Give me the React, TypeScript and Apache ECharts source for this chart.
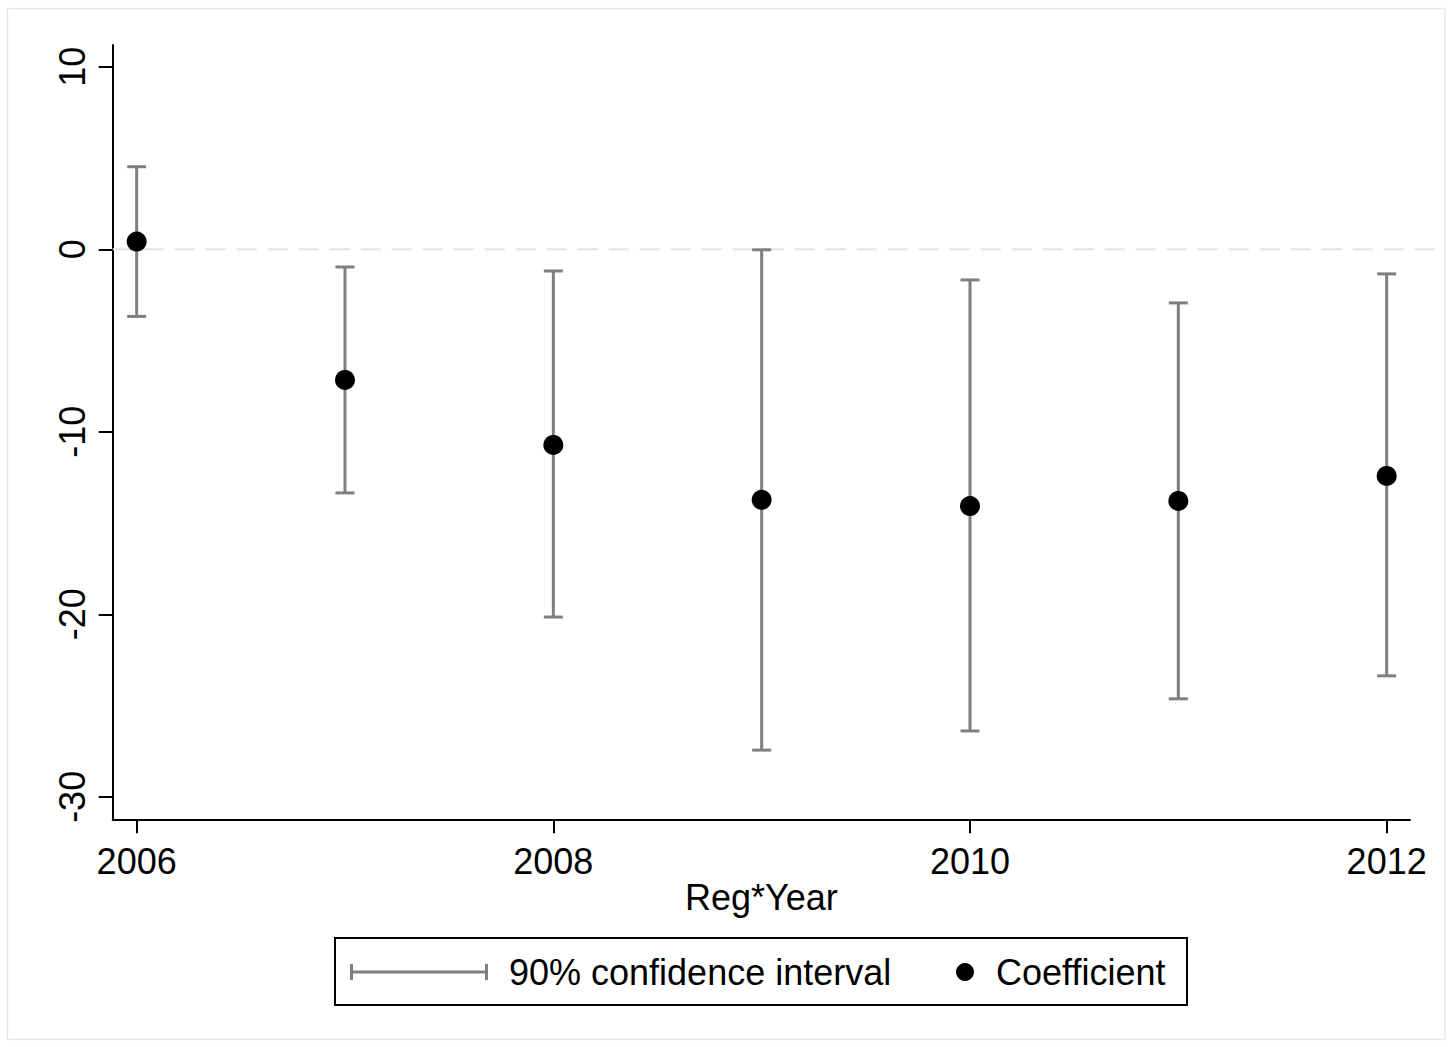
import React, { useEffect, useRef } from "react";
import * as echarts from "echarts";

const YEARS = [2006, 2007, 2008, 2009, 2010, 2011, 2012];
const COEF = [0.42, -7.16, -10.72, -13.73, -14.07, -13.79, -12.42];
const CI_LOW = [-3.68, -13.35, -20.15, -27.44, -26.39, -24.63, -23.37];
const CI_HIGH = [4.52, -0.97, -1.19, -0.03, -1.68, -2.94, -1.35];
const X_TICKS = [2006, 2008, 2010, 2012];
const Y_TICKS = [-30, -20, -10, 0, 10];
const ZERO_LINE = [[0, 0], [1, 0]];
const X_TITLE = "Reg*Year";
const CI_NAME = "90% confidence interval";
const COEF_NAME = "Coefficient";

const FONT = "'Liberation Sans', Arial, sans-serif";
const GRAY = "#7f7f7f";

export default function App() {
  const ref = useRef<HTMLDivElement>(null);
  useEffect(() => {
    if (!ref.current) return;
    const chart = echarts.init(ref.current, null, { renderer: "svg" });
    const yMin = -31.23;
    const yMax = 11.19;
    const option: any = {
      animation: false,
      backgroundColor: "#ffffff",
      textStyle: { fontFamily: FONT },
      grid: [
        { left: 112.7, right: 38, top: 45, bottom: 227.7 },
        { left: 112.7, right: 2, top: 45, bottom: 227.7 },
      ],
      xAxis: [
        {
          type: "value",
          gridIndex: 0,
          min: 2005.885,
          max: 2012.112,
          splitLine: { show: false },
          axisLine: { show: true, onZero: false, lineStyle: { color: "#000", width: 2 } },
          axisTick: { show: true, customValues: X_TICKS, length: 14, lineStyle: { color: "#000", width: 2 } },
          axisLabel: {
            customValues: X_TICKS,
            formatter: (v: number) => String(v),
            color: "#000",
            fontSize: 36,
            fontFamily: FONT,
            margin: 24,
          },
          name: X_TITLE,
          nameLocation: "middle",
          nameGap: 60,
          nameMoveOverlap: false,
          nameTextStyle: { color: "#000", fontSize: 36, fontFamily: FONT },
        },
        { type: "value", gridIndex: 1, min: 0, max: 1, show: false },
      ],
      yAxis: [
        {
          type: "value",
          gridIndex: 0,
          min: yMin,
          max: yMax,
          splitLine: { show: false },
          axisLine: { show: true, onZero: false, lineStyle: { color: "#000", width: 2 } },
          axisTick: { show: true, customValues: Y_TICKS, length: 14, lineStyle: { color: "#000", width: 2 } },
          axisLabel: {
            customValues: Y_TICKS,
            rotate: 90,
            color: "#000",
            fontSize: 36,
            fontFamily: FONT,
            margin: 22,
          },
        },
        { type: "value", gridIndex: 1, min: yMin, max: yMax, show: false },
      ],
      legend: [
        {
          data: [
            {
              name: CI_NAME,
              icon: "path://M0,0h3v16h-3z M3,6.5h132v3h-132z M135,0h3v16h-3z",
            },
          ],
          left: 350,
          top: 954,
          padding: 0,
          itemWidth: 138,
          itemHeight: 16,
          itemStyle: { color: GRAY },
          textStyle: { color: "#000", fontSize: 36, fontFamily: FONT, padding: [0, 0, 0, 16] },
        },
        {
          data: [{ name: COEF_NAME, icon: "circle" }],
          left: 956,
          top: 954,
          padding: 0,
          itemWidth: 18,
          itemHeight: 18,
          itemStyle: { color: "#000", opacity: 1 },
          textStyle: { color: "#000", fontSize: 36, fontFamily: FONT, padding: [0, 0, 0, 17] },
        },
      ],
      graphic: [
        {
          type: "rect",
          shape: { x: 7.5, y: 8.5, width: 1437.5, height: 1031 },
          style: { fill: "none", stroke: "#e3eaed", lineWidth: 1.5 },
          silent: true,
          z: -1,
        },
        {
          type: "rect",
          shape: { x: 335, y: 938, width: 852, height: 67 },
          style: { fill: "none", stroke: "#000", lineWidth: 2 },
          silent: true,
        },
      ],
      series: [
        {
          type: "line",
          xAxisIndex: 1,
          yAxisIndex: 1,
          data: ZERO_LINE,
          symbol: "none",
          silent: true,
          z: 1,
          lineStyle: { color: "#e2e2e2", width: 2, type: [20, 11] },
        },
        {
          name: CI_NAME,
          type: "custom",
          xAxisIndex: 0,
          yAxisIndex: 0,
          z: 3,
          itemStyle: { color: GRAY },
          data: YEARS.map((y, i) => [y, CI_LOW[i], CI_HIGH[i]]),
          renderItem: (params: any, api: any) => {
            const x = api.value(0);
            const lo = api.coord([x, api.value(1)]);
            const hi = api.coord([x, api.value(2)]);
            const hw = 9.5;
            const st = { stroke: GRAY, lineWidth: 3 };
            return {
              type: "group",
              children: [
                { type: "line", shape: { x1: lo[0], y1: lo[1], x2: hi[0], y2: hi[1] }, style: st },
                { type: "line", shape: { x1: hi[0] - hw, y1: hi[1], x2: hi[0] + hw, y2: hi[1] }, style: st },
                { type: "line", shape: { x1: lo[0] - hw, y1: lo[1], x2: lo[0] + hw, y2: lo[1] }, style: st },
              ],
            };
          },
        },
        {
          name: COEF_NAME,
          type: "scatter",
          xAxisIndex: 0,
          yAxisIndex: 0,
          z: 4,
          symbol: "circle",
          symbolSize: 20,
          itemStyle: { color: "#000", opacity: 1 },
          data: YEARS.map((y, i) => [y, COEF[i]]),
        },
      ],
    };
    chart.setOption(option);
    return () => chart.dispose();
  }, []);
  return (
    <div
      ref={ref}
      style={{ position: "fixed", left: 0, top: 0, width: 1448, height: 1047, background: "#fff" }}
    />
  );
}
